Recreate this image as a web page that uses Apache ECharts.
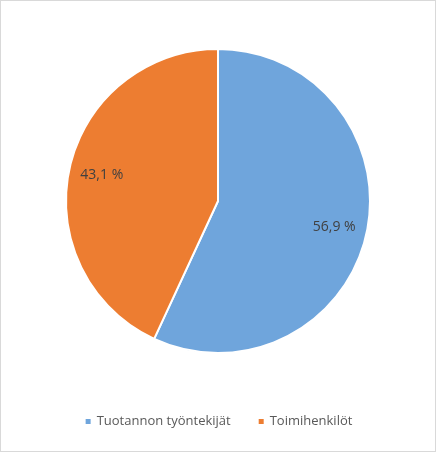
<!DOCTYPE html>
<html>
<head>
<meta charset="utf-8">
<script src="https://cdn.jsdelivr.net/npm/echarts@6/dist/echarts.min.js"></script>
<style>
html,body{margin:0;padding:0;background:#fff;}
#chart{width:434px;height:450px;border:1px solid #d9d9d9;}
</style>
</head>
<body>
<div id="chart"></div>
<script>
var categories = ['Tuotannon työntekijät', 'Toimihenkilöt'];
var shares = [56.9, 43.1];
var colors = ['#6fa5dc', '#ed7d31'];

var chart = echarts.init(document.getElementById('chart'));
var data = categories.map(function (c, i) {
    return { name: c, value: shares[i], itemStyle: { color: colors[i] } };
});
var fmt = function (p) { return p.value.toFixed(1).replace('.', ',') + ' %'; };

chart.setOption({
    animation: false,
    legend: {
        bottom: 18,
        icon: 'rect',
        itemWidth: 7,
        itemHeight: 7,
        itemGap: 26,
        textStyle: { color: '#595959', fontSize: 13, fontFamily: 'Open Sans' },
        data: categories
    },
    series: [{
        type: 'pie',
        center: [217, 200],
        radius: 152,
        startAngle: 90,
        data: data,
        label: { show: false },
        itemStyle: { borderColor: '#fff', borderWidth: 2 }
    }, {
        // invisible ring only for placing the value labels
        type: 'pie',
        center: [217, 200],
        radius: [80, 152],
        startAngle: 90,
        silent: true,
        data: data.map(function (d) { return { name: d.name, value: d.value, itemStyle: { color: 'transparent' } }; }),
        label: { show: true, position: 'inside', formatter: fmt, color: '#404040', fontSize: 14, fontFamily: 'Open Sans' },
        labelLine: { show: false }
    }]
});
</script>
</body>
</html>
